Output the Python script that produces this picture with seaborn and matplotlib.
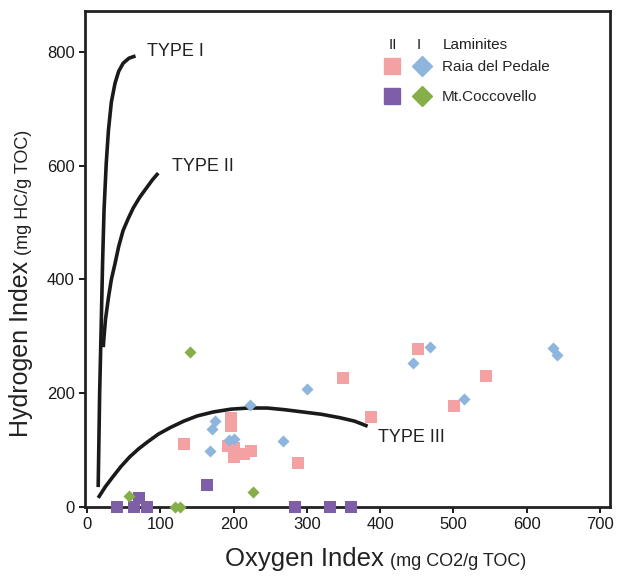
import pandas as pd
import numpy as np
import matplotlib
matplotlib.use("Agg")
import matplotlib.pyplot as plt
import seaborn as sns
from matplotlib.lines import Line2D
from matplotlib.legend_handler import HandlerTuple

# Raia del Pedale, laminites II (squares) and I (diamonds)
raia_ii_oi = [132, 192, 200, 197, 196, 200, 214, 224, 288, 350, 387, 452, 501, 545]
raia_ii_hi = [110, 108, 104, 157, 143, 88, 94, 98, 77, 226, 158, 277, 177, 230]
raia_i_oi = [223, 175, 170, 168, 193, 200, 268, 300, 445, 468, 514, 636, 641]
raia_i_hi = [179, 151, 137, 98, 118, 119, 116, 207, 254, 281, 189, 279, 268]

# Mt.Coccovello, laminites II (squares) and I (diamonds)
cocc_ii_oi = [164, 41, 64, 71, 82, 284, 331, 360]
cocc_ii_hi = [39, 0, 0, 15, 0, 0, 0, 0]
cocc_i_oi = [57, 120, 127, 141, 226]
cocc_i_hi = [19, 0, 0, 272, 27]

# kerogen type evolution paths
type1_oi = [15, 17, 19, 21, 23, 26, 29, 33, 38, 43, 49, 57, 66]
type1_hi = [35, 200, 311, 429, 522, 604, 662, 712, 745, 766, 780, 789, 793]
type2_oi = [22, 23, 25, 29, 33, 38, 43, 49, 56, 63, 72, 81, 89, 97]
type2_hi = [281, 300, 330, 368, 400, 428, 458, 486, 507, 526, 545, 561, 575, 587]
type3_oi = [15, 25, 35, 46, 58, 70, 82, 97, 114, 132, 150, 172, 196, 220,
            246, 270, 295, 320, 345, 365, 383]
type3_hi = [16, 36, 53, 71, 88, 102, 114, 128, 140, 151, 160, 167, 172, 174,
            174, 171, 167, 163, 157, 151, 142]

x_ticks = [0, 100, 200, 300, 400, 500, 600, 700]
y_ticks = [0, 200, 400, 600, 800]

pink = "#F4A1A4"
blue = "#8DB5DD"
purple = "#7E5FA7"
green = "#86AF49"

df = pd.concat([
    pd.DataFrame({"oi": raia_ii_oi, "hi": raia_ii_hi, "grp": "raia_ii"}),
    pd.DataFrame({"oi": raia_i_oi, "hi": raia_i_hi, "grp": "raia_i"}),
    pd.DataFrame({"oi": cocc_ii_oi, "hi": cocc_ii_hi, "grp": "cocc_ii"}),
    pd.DataFrame({"oi": cocc_i_oi, "hi": cocc_i_hi, "grp": "cocc_i"}),
])
styles = {
    "raia_ii": (pink, "s", 72),
    "raia_i": (blue, "D", 38),
    "cocc_ii": (purple, "s", 78),
    "cocc_i": (green, "D", 38),
}

sns.set_style("white")
plt.rcParams["font.family"] = ["Liberation Sans", "DejaVu Sans"]

fig = plt.figure(figsize=(6.18, 5.81), dpi=100)
ax = fig.add_axes([85 / 618, 74 / 581, 525 / 618, 496 / 581])

line_kw = dict(color="#1a1a1a", linewidth=2.6, sort=False, estimator=None,
               legend=False, solid_joinstyle="round", solid_capstyle="butt")
for xs, ys in [(type1_oi, type1_hi), (type2_oi, type2_hi), (type3_oi, type3_hi)]:
    sns.lineplot(x=xs, y=ys, ax=ax, **line_kw)

for grp in ["raia_ii", "raia_i", "cocc_ii", "cocc_i"]:
    col, mk, sz = styles[grp]
    sub = df[df["grp"] == grp]
    sns.scatterplot(data=sub, x="oi", y="hi", ax=ax, color=col, marker=mk,
                    s=sz, linewidth=0, legend=False, clip_on=False, zorder=5)

ax.text(82, 800, "TYPE I", fontsize=13, va="center", color="#222222")
ax.text(116, 599, "TYPE II", fontsize=13, va="center", color="#222222")
ax.text(397, 123, "TYPE III", fontsize=13, va="center", color="#222222")

ax.set_xlim(-3, 714)
ax.set_ylim(0, 872)
ax.set_xticks(x_ticks)
ax.set_yticks(y_ticks)
ax.set_xlabel("")
ax.set_ylabel("")
ax.tick_params(axis="both", direction="out", length=4.5, width=1.4,
               labelsize=12, pad=3, colors="#1a1a1a", bottom=True, left=True)
for sp in ax.spines.values():
    sp.set_visible(True)
    sp.set_linewidth(2.0)
    sp.set_color("#222222")

# legend
h_raia = (Line2D([], [], marker="s", color=pink, markersize=12, linestyle="None"),
          Line2D([], [], marker="D", color=blue, markersize=10.5, linestyle="None"))
h_cocc = (Line2D([], [], marker="s", color=purple, markersize=12, linestyle="None"),
          Line2D([], [], marker="D", color=green, markersize=10.5, linestyle="None"))
ax.legend([h_raia, h_cocc], ["Raia del Pedale", "Mt.Coccovello"],
          handler_map={tuple: HandlerTuple(ndivide=None, pad=0.78)},
          loc="upper left", bbox_to_anchor=((383 - 85) / 525, (507 - 60) / 496),
          frameon=False, fontsize=11, handlelength=3.1, handletextpad=0.75,
          labelspacing=1.05, borderpad=0, borderaxespad=0)
ax.text((393 - 85) / 525, (507 - 45) / 496, "II", transform=ax.transAxes,
        fontsize=11, ha="center", va="center", color="#222222")
ax.text((419 - 85) / 525, (507 - 45) / 496, "I", transform=ax.transAxes,
        fontsize=11, ha="center", va="center", color="#222222")
ax.text((443 - 85) / 525, (507 - 45) / 496, "Laminites", transform=ax.transAxes,
        fontsize=11, ha="left", va="center", color="#222222")

# axis titles: big name followed by smaller units
fig.canvas.draw()
r = fig.canvas.get_renderer()
xl = fig.text(225 / 618, 15 / 581, "Oxygen Index", fontsize=18.5, color="#222222",
              ha="left", va="baseline")
bb = xl.get_window_extent(r)
fig.text((bb.x1 + 6) / 618, 15 / 581, "(mg CO2/g TOC)", fontsize=13,
         color="#222222", ha="left", va="baseline")

yl = fig.text(28 / 618, (581 - 437) / 581, "Hydrogen Index", fontsize=18,
              color="#222222", rotation=90, rotation_mode="anchor",
              ha="left", va="baseline")
bb = yl.get_window_extent(r)
fig.text(28 / 618, (bb.y1 + 6) / 581, "(mg HC/g TOC)", fontsize=13,
         color="#222222", rotation=90, rotation_mode="anchor",
         ha="left", va="baseline")

fig.savefig("out.png", dpi=100)
